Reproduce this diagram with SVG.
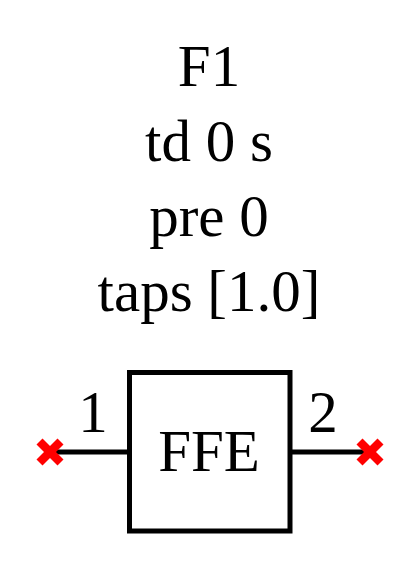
<svg xmlns="http://www.w3.org/2000/svg" width="420" height="572" viewBox="0 0 420 572">
<style>
text{font-family:"Liberation Serif","Times New Roman",serif;font-size:59px;fill:#000}
.c{text-anchor:middle}
.w{stroke:#000;stroke-width:5;fill:none}
.x{stroke:#ff0000;stroke-width:8.5;stroke-linecap:butt}
</style>
<rect width="420" height="572" fill="#fff"/>
<g id="labels">
<text class="c" x="209" y="86">F1</text>
<text class="c" x="209" y="161">td 0 s</text>
<text class="c" x="209" y="236">pre 0</text>
<text class="c" x="209" y="311">taps [1.0]</text>
</g>
<g id="connectors">
<line class="w" x1="50" y1="452" x2="129.5" y2="452"/>
<line class="w" x1="290" y1="452" x2="370" y2="452"/>
</g>
<g id="F1">
<rect class="w" x="129.5" y="372.5" width="160.5" height="158.5"/>
<text class="c" x="209" y="471">FFE</text>
</g>
<g id="port1">
<text class="c" x="93" y="432">1</text>
<line class="x" x1="39.5" y1="441.5" x2="60.5" y2="462.5"/>
<line class="x" x1="39.5" y1="462.5" x2="60.5" y2="441.5"/>
</g>
<g id="port2">
<text class="c" x="323" y="432">2</text>
<line class="x" x1="359.5" y1="441.5" x2="380.5" y2="462.5"/>
<line class="x" x1="359.5" y1="462.5" x2="380.5" y2="441.5"/>
</g>
</svg>
